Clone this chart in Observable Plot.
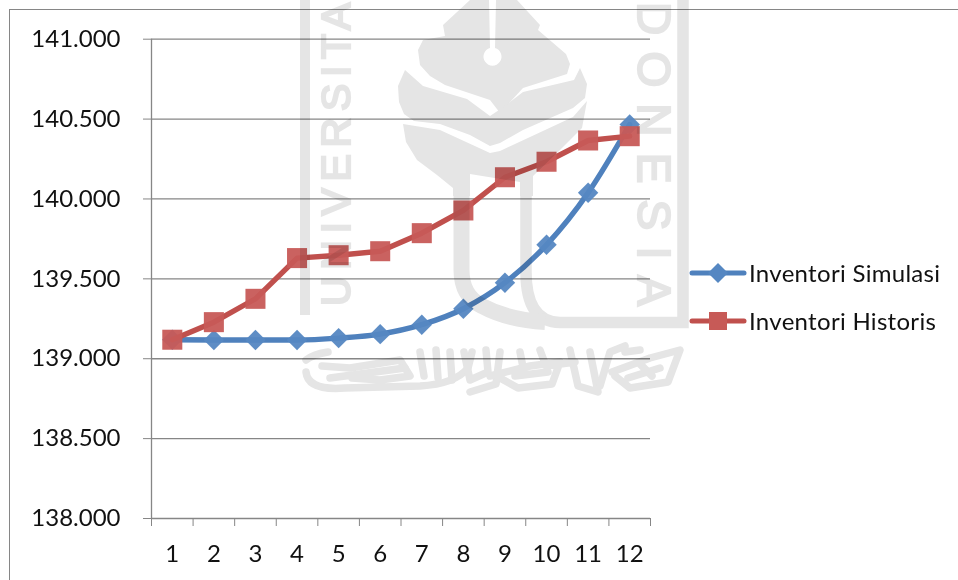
<!DOCTYPE html>
<html>
<head>
<meta charset="utf-8">
<script src="https://cdn.jsdelivr.net/npm/d3@7"></script>
<script src="https://cdn.jsdelivr.net/npm/@observablehq/plot@0.6"></script>
<style>
  html, body { margin: 0; padding: 0; background: #fff; }
  #stage { position: relative; width: 958px; height: 580px; overflow: hidden; font-family: Lato, sans-serif; }
  #border { position: absolute; left: 8.5px; top: 9px; right: -4px; bottom: -4px; border: 1.3px solid #868686; }
  #legend { position: absolute; left: 689px; top: 249px; color: #111; font-size: 24px; line-height: 48px; letter-spacing: 0.3px; }
  #legend .row { display: flex; align-items: center; height: 48px; }
  #legend svg { width: 58px; height: 24px; margin-right: 2px; }
  #seal { position: absolute; left: 0; top: 0; mix-blend-mode: multiply; pointer-events: none; }
</style>
</head>
<body>
<div id="stage">
  <div id="border"></div>
  <div id="chart"></div>
  <div id="legend"></div>
  <!-- University seal printed across the page -->
  <svg id="seal" width="958" height="580" viewBox="0 0 958 580">
    <g fill="#e5e5e5" stroke="none">
      <path d="M470,0 L443,25 L445,36 L423,40 L418,50 L420,65 L430,76 L445,85 L490,100 L500,113 L523,88 L567,74 L570,64 L566,54 L538,30 L540,25 L517,0 L496,0 L495,48 A9,9 0 1 1 490,48 L489,0 Z" />
      <path d="M405,70 L398,86 L399,102 L404,114 L414,121 L440,124 L470,135 L490,146 L500,143 L523,130 L573,108 L585,98 L587,84 L580,68 L574,80 L523,92 L502,108 L490,116 L467,99 L423,86 Z" />
      <path d="M403,124 L440,130 L490,153 L500,151 L573,117 L587,101 L582,128 L560,150 L533,176 L533,196 L520,196 L520,182 L470,174 L470,196 L453,196 L453,188 L437,175 L417,160 L406,142 Z" />
    </g>
    <g fill="none" stroke="#e5e5e5" stroke-linecap="butt">
      <path d="M305,-4 V315" stroke-width="10" />
      <path d="M683,-4 V322.5 H560 Q526,322 526,272 V190" stroke-width="11.5" />
      <path d="M461.5,190 V270 Q461.5,296 482,306 Q508,320 545,322" stroke-width="16" />
    </g>
    <g fill="#e5e5e5" stroke="#e5e5e5" stroke-width="2.2" font-family="'Liberation Sans', sans-serif" font-weight="400">
      <text transform="translate(350,306) rotate(-90)" font-size="41" textLength="303" lengthAdjust="spacing">UNIVERSITA</text>
      <text transform="translate(638,2) rotate(90)" font-size="46" textLength="304" lengthAdjust="spacing">DONESIA</text>
    </g>
    <!-- Calligraphy band under the shield -->
    <g fill="none" stroke="#e5e5e5" stroke-width="7.5" stroke-linecap="round" stroke-linejoin="round">
      <path d="M306,360 Q314,354 328,352 M306,372 Q308,391 345,388 L420,386 Q455,384 468,368 L472,352 M322,366 L350,368 L400,360 L410,376 L380,380 L352,378" />
      <path d="M330,378 L405,368 M420,352 L424,376 M436,350 L438,378 M450,352 L452,380 M464,352 L470,380 L488,372 L486,350 M500,352 L496,384 L470,392" />
      <path d="M490,376 L530,366 L560,362 L552,384 L518,388 L500,378 M515,376 L548,372 M520,352 L524,372 M540,350 L546,366 L575,362 M570,350 L578,386 L598,392 L590,352" />
      <path d="M600,386 L610,352 L625,346 M612,372 L650,358 L680,350 L668,382 L630,388 L615,376 M640,364 L652,376 M625,352 L640,350 M628,378 L660,368" />
    </g>
  </svg>
</div>
<script>
// Monthly inventory levels, simulated against recorded
const periods = [1, 2, 3, 4, 5, 6, 7, 8, 9, 10, 11, 12];
const inventoriSimulasi = [139119, 139117, 139117, 139117, 139129, 139154, 139213, 139313, 139476, 139713, 140039, 140466];
const inventoriHistoris = [139119, 139229, 139375, 139630, 139648, 139673, 139786, 139928, 140136, 140233, 140366, 140393];
const yTicks = [138000, 138500, 139000, 139500, 140000, 140500, 141000];
const seriesNames = ["Inventori Simulasi", "Inventori Historis"];
const lineColors = ["#4f81bd", "#c0504d"];
const markerColors = ["#5587c2", "#c75a57"];
const axisColor = "#868686";

// Excel-style thousands separator, e.g. 139.500
const formatThousands = d => d3.format(",")(d).replace(",", ".");
const rows = values => periods.map((p, i) => ({period: p, value: values[i]}));
const simulasi = rows(inventoriSimulasi);
const historis = rows(inventoriHistoris);
const categoryEdges = [...periods.map(p => p - 0.5), periods[periods.length - 1] + 0.5];

const chart = Plot.plot({
  width: 958,
  height: 580,
  marginLeft: 151,
  marginRight: 308,
  marginTop: 38.7,
  marginBottom: 62,
  style: {fontFamily: "Lato, sans-serif", fontSize: "24px", color: "#111", background: "transparent"},
  x: {domain: [0.5, 12.5]},
  y: {domain: [138000, 141000]},
  marks: [
    Plot.gridY(yTicks, {stroke: axisColor, strokeOpacity: 1, strokeWidth: 1.3}),
    Plot.ruleX([0.5], {stroke: axisColor, strokeWidth: 1.3}),
    Plot.axisY({ticks: yTicks, tickSize: 8, tickPadding: 23, tickFormat: formatThousands, label: null, stroke: axisColor, color: "#111", fill: "#111"}),
    Plot.axisX({ticks: categoryEdges, tickSize: 8, tickFormat: () => "", label: null, stroke: axisColor}),
    Plot.axisX({ticks: periods, tickSize: 0, tickPadding: 26, tickFormat: d3.format("d"), label: null, fill: "#111"}),
    Plot.line(simulasi, {x: "period", y: "value", stroke: lineColors[0], strokeWidth: 5.4, curve: "monotone-x"}),
    Plot.dot(simulasi, {x: "period", y: "value", symbol: "diamond2", r: 9.2, fill: markerColors[0], fillOpacity: 0.95, stroke: "none"}),
    Plot.line(historis, {x: "period", y: "value", stroke: lineColors[1], strokeWidth: 5.4}),
    Plot.dot(historis, {x: "period", y: "value", symbol: "square", r: 11.3, fill: markerColors[1], fillOpacity: 0.95, stroke: "none"})
  ]
});
document.getElementById("chart").append(chart);

// Legend keys repeat each line with its marker
const legend = d3.select("#legend");
seriesNames.forEach((name, i) => {
  const row = legend.append("div").attr("class", "row");
  const key = row.append("svg").attr("viewBox", "0 0 58 24");
  key.append("line").attr("x1", 3).attr("x2", 55).attr("y1", 12).attr("y2", 12)
    .attr("stroke", lineColors[i]).attr("stroke-width", 5).attr("stroke-linecap", "round");
  if (i === 0) {
    key.append("path").attr("d", d3.symbol(d3.symbolDiamond2, 256)).attr("transform", "translate(29,12)").attr("fill", markerColors[i]);
  } else {
    key.append("rect").attr("x", 20).attr("y", 3).attr("width", 18).attr("height", 18).attr("fill", markerColors[i]);
  }
  row.append("span").text(name);
});
</script>
</body>
</html>
